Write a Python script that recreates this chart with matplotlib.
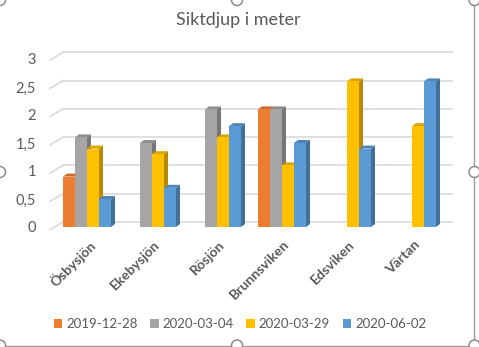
import numpy as np
import matplotlib
matplotlib.use("Agg")
import matplotlib.pyplot as plt
from matplotlib.patches import Polygon, Patch, Rectangle, Ellipse

plt.rcParams['font.family'] = ['Lato', 'DejaVu Sans']

# siktdjup per lokal och provtagningsdatum (nan = inget prov)
lokaler = ['Ösbysjön', 'Ekebysjön', 'Rösjön', 'Brunnsviken', 'Edsviken', 'Värtan']
datum = ['2019-12-28', '2020-03-04', '2020-03-29', '2020-06-02']
d_2019_12_28 = [0.9, np.nan, np.nan, 2.1, np.nan, np.nan]
d_2020_03_04 = [1.6, 1.5, 2.1, 2.1, np.nan, np.nan]
d_2020_03_29 = [1.4, 1.3, 1.6, 1.1, 2.6, 1.8]
d_2020_06_02 = [0.5, 0.7, 1.8, 1.5, 1.4, 2.6]
serier = [d_2019_12_28, d_2020_03_04, d_2020_03_29, d_2020_06_02]

yticks = [0, 0.5, 1, 1.5, 2, 2.5, 3]
ylabels = ['0', '0,5', '1', '1,5', '2', '2,5', '3']

farger = ['#ED7D31', '#A5A5A5', '#FFC000', '#5B9BD5']
textfarg = '#595959'

W, H = 479, 347
fig = plt.figure(figsize=(W / 100, H / 100), dpi=100)

# ram och markeringshandtag runt diagrammet
bg = fig.add_axes([0, 0, 1, 1])
bg.set_xlim(0, W)
bg.set_ylim(H, 0)
bg.axis('off')
bg.add_patch(Rectangle((-5, -5), 479.5, 350.5, fill=False, ec='#9A9A9A', lw=1))
for (hx, hy) in [(0, 0), (237, 0), (474.5, 0), (0, 172), (474.5, 172),
                 (0, 345.5), (237, 345.5), (474.5, 345.5)]:
    bg.add_patch(Ellipse((hx, hy), 11, 11, fc='white', ec='#8C8C8C', lw=1.1))

# diagramyta
px0, px1, py_top, py0 = 50, 455, 40, 227
ppu_x, ppu_y = 65.0, 56.0
ax = fig.add_axes([px0 / W, (H - py0) / H, (px1 - px0) / W, (py0 - py_top) / H])
ax.set_facecolor('none')
ax.set_xlim((px0 - 87) / ppu_x, (px1 - 87) / ppu_x)
ax.set_ylim(0, (py0 - py_top) / ppu_y)
for s in ax.spines.values():
    s.set_visible(False)

# stödlinjer på bakväggen med sned golvkant till vänster
gx0, gx1 = (63 - 87) / ppu_x, (452 - 87) / ppu_x
for v in yticks:
    yb = v + 0.09 + 0.01 * v
    ax.plot([gx0, gx1], [yb, yb], color='#D9D9D9', lw=1.2, zorder=1, clip_on=False)
    ax.plot([ax.get_xlim()[0], gx0], [yb - 0.14, yb], color='#D9D9D9', lw=1.2,
            zorder=1, clip_on=False)

bw = 12 / ppu_x
dx, dy = 4 / ppu_x, 3 / ppu_y
x = np.arange(len(lokaler))


def morkare(c, f):
    r, g, b = matplotlib.colors.to_rgb(c)
    return (r * f, g * f, b * f)


z = 2
for i in range(len(lokaler)):
    for k, (serie, c) in enumerate(zip(serier, farger)):
        v = serie[i]
        if np.isnan(v):
            continue
        x0 = x[i] + (k - 2) * bw
        x1 = x0 + bw
        ax.bar(x0, v, width=bw, align='edge', color=c, lw=0, zorder=z + 2)
        ax.add_patch(Polygon([(x1, 0), (x1 + dx, dy), (x1 + dx, v + dy), (x1, v)],
                             closed=True, fc=morkare(c, 0.72), lw=0, zorder=z))
        ax.add_patch(Polygon([(x0, v), (x0 + dx, v + dy), (x1 + dx, v + dy), (x1, v)],
                             closed=True, fc=morkare(c, 0.86), lw=0, zorder=z + 1))
        z += 3

ax.set_yticks(yticks)
ax.set_yticklabels(ylabels, fontsize=10.5, color=textfarg)
ax.set_xticks(x + 0.02)
ax.set_xticklabels(lokaler, rotation=45, ha='right', rotation_mode='anchor',
                   fontsize=10, fontweight='bold', color=textfarg)
ax.tick_params(axis='y', length=0, pad=10)
ax.tick_params(axis='x', length=0, pad=8)

fig.text(238 / W, 1 - 20 / H, 'Siktdjup i meter', ha='center', va='center',
         fontsize=13, color=textfarg)

handles = [Patch(fc=c, ec='none') for c in farger]
fig.legend(handles, datum, loc='center', bbox_to_anchor=(240 / W, 1 - 324 / H),
           ncol=4, frameon=False, fontsize=9.5, labelcolor=textfarg,
           handlelength=0.65, handleheight=0.65, handletextpad=0.3,
           columnspacing=0.95)

fig.savefig('out.png', dpi=100)
